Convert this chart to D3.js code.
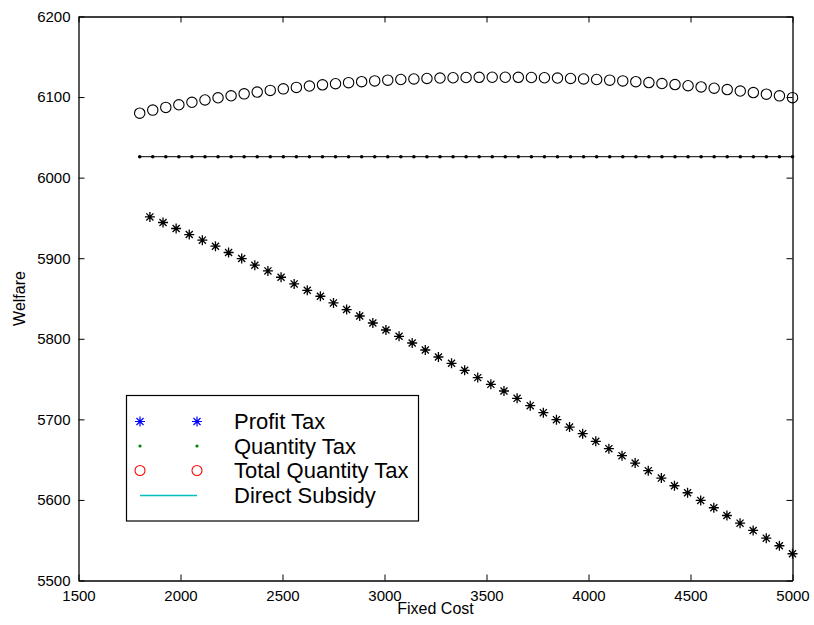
<!DOCTYPE html>
<html>
<head>
<meta charset="utf-8">
<script src="https://cdn.jsdelivr.net/npm/d3@7"></script>
<style>
  html, body { margin: 0; padding: 0; background: #fff; }
  svg { display: block; font-family: "Liberation Sans", Arial, Helvetica, sans-serif; }
</style>
</head>
<body>
<svg id="chart" width="814" height="625"></svg>
<script>
// Fixed-cost grid for the quantity-based schemes
const costGrid = [1800,1864,1928,1992,2056,2120,2184,2248,2312,2376,2440,2504,2568,2632,2696,2760,2824,2888,2952,3016,3080,3144,3208,3272,3336,3400,3464,3528,3592,3656,3720,3784,3848,3912,3976,4040,4104,4168,4232,4296,4360,4424,4488,4552,4616,4680,4744,4808,4872,4936,5000];

// Fixed-cost grid for the profit tax
const profitCost = [1850,1914.3,1978.6,2042.9,2107.1,2171.4,2235.7,2300,2364.3,2428.6,2492.9,2557.1,2621.4,2685.7,2750,2814.3,2878.6,2942.9,3007.1,3071.4,3135.7,3200,3264.3,3328.6,3392.9,3457.1,3521.4,3585.7,3650,3714.3,3778.6,3842.9,3907.1,3971.4,4035.7,4100,4164.3,4228.6,4292.9,4357.1,4421.4,4485.7,4550,4614.3,4678.6,4742.9,4807.1,4871.4,4935.7,5000];

// Welfare under each scheme
const profitTax = [5951.3,5944.3,5936.9,5929.4,5922.4,5914.9,5907.1,5899.6,5891.3,5884.2,5876.4,5868.1,5860.2,5852.8,5844.5,5836.3,5828.3,5819.6,5810.9,5803.1,5794.8,5786.1,5777.4,5769.6,5760.9,5751.8,5743.5,5735.2,5726.1,5717.0,5708.3,5699.6,5690.4,5682.2,5672.7,5663.6,5654.9,5645.7,5636.3,5627.1,5617.6,5608.9,5599.4,5590.3,5580.7,5571.2,5562.1,5552.5,5543.1,5533.2];

const quantityTax = [6026,6026,6026,6026,6026,6026,6026,6026,6026,6026,6026,6026,6026,6026,6026,6026,6026,6026,6026,6026,6026,6026,6026,6026,6026,6026,6026,6026,6026,6026,6026,6026,6026,6026,6026,6026,6026,6026,6026,6026,6026,6026,6026,6026,6026,6026,6026,6026,6026,6026,6026];

const totalQuantityTax = [6080,6083.8,6087.2,6090.4,6093.5,6096.4,6099.1,6101.6,6104.0,6106.2,6108.3,6110.2,6112.0,6113.7,6115.2,6116.6,6117.9,6119.1,6120.1,6121.0,6121.8,6122.5,6123.1,6123.6,6124.0,6124.3,6124.5,6124.6,6124.6,6124.5,6124.3,6124.0,6123.6,6123.1,6122.5,6121.8,6121.0,6120.1,6119.1,6118.0,6116.8,6115.5,6114.1,6112.6,6111.0,6109.3,6107.5,6105.6,6103.6,6101.5,6099.3];

const xTicks = [1500,2000,2500,3000,3500,4000,4500,5000];
const yTicks = [5500,5600,5700,5800,5900,6000,6100,6200];
const legendLabels = ["Profit Tax","Quantity Tax","Total Quantity Tax","Direct Subsidy"];

const svg = d3.select("#chart");
const plotLeft = 78.5, plotRight = 792.5, plotTop = 16.5, plotBottom = 580.5;

const x = d3.scaleLinear().domain([1500, 5000]).range([plotLeft, plotRight]);
const y = d3.scaleLinear().domain([5500, 6200]).range([plotBottom, plotTop]);

// Axes with inward ticks on all four sides
const tickLen = 6;
const fontSize = 15;
svg.append("g").attr("transform", `translate(0,${plotBottom})`)
  .call(d3.axisBottom(x).tickValues(xTicks).tickSizeInner(-tickLen).tickSizeOuter(0).tickPadding(10).tickFormat(d3.format("d")));
svg.append("g").attr("transform", `translate(0,${plotTop})`)
  .call(d3.axisTop(x).tickValues(xTicks).tickSizeInner(-tickLen).tickSizeOuter(0).tickFormat(""));
svg.append("g").attr("transform", `translate(${plotLeft},0)`)
  .call(d3.axisLeft(y).tickValues(yTicks).tickSizeInner(-tickLen).tickSizeOuter(0).tickPadding(8).tickFormat(d3.format("d")));
svg.append("g").attr("transform", `translate(${plotRight},0)`)
  .call(d3.axisRight(y).tickValues(yTicks).tickSizeInner(-tickLen).tickSizeOuter(0).tickFormat(""));

svg.selectAll(".domain").attr("stroke", "#000").attr("stroke-width", 1.3);
svg.selectAll(".tick line").attr("stroke", "#000").attr("stroke-width", 1);
svg.selectAll(".tick text").attr("fill", "#000").attr("font-size", fontSize)
  .attr("font-family", '"Liberation Sans", Arial, sans-serif');

// Axis titles
svg.append("text").attr("x", (plotLeft + plotRight) / 2).attr("y", 614)
  .attr("text-anchor", "middle").attr("font-size", 16).text("Fixed Cost");
svg.append("text").attr("transform", `translate(25,${(plotTop + plotBottom) / 2}) rotate(-90)`)
  .attr("text-anchor", "middle").attr("font-size", 16).text("Welfare");

// Asterisk marker path (plus + cross)
function starPath(cx, cy, r) {
  const d = r * Math.SQRT1_2;
  return `M${cx - r},${cy}L${cx + r},${cy}M${cx},${cy - r}L${cx},${cy + r}` +
         `M${cx - d},${cy - d}L${cx + d},${cy + d}M${cx - d},${cy + d}L${cx + d},${cy - d}`;
}

const plot = svg.append("g");

// Quantity tax: line with dots
const qData = costGrid.map((c, i) => [c, quantityTax[i]]);
plot.append("path").datum(qData)
  .attr("fill", "none").attr("stroke", "#000").attr("stroke-width", 1)
  .attr("d", d3.line().x(d => x(d[0])).y(d => y(d[1])));
plot.selectAll("circle.q").data(qData).join("circle").attr("class", "q")
  .attr("cx", d => x(d[0])).attr("cy", d => y(d[1])).attr("r", 1.8).attr("fill", "#000");

// Total quantity tax: open circles
const tData = costGrid.map((c, i) => [c, totalQuantityTax[i]]);
plot.selectAll("circle.t").data(tData).join("circle").attr("class", "t")
  .attr("cx", d => x(d[0])).attr("cy", d => y(d[1])).attr("r", 5.2)
  .attr("fill", "none").attr("stroke", "#000").attr("stroke-width", 1.1);

// Profit tax: asterisks
const pData = profitCost.map((c, i) => [c, profitTax[i]]);
plot.selectAll("path.p").data(pData).join("path").attr("class", "p")
  .attr("d", d => starPath(x(d[0]), y(d[1]), 5))
  .attr("fill", "none").attr("stroke", "#000").attr("stroke-width", 1.3);

// Legend
const lg = svg.append("g");
lg.append("rect").attr("x", 126.5).attr("y", 395.5).attr("width", 292).attr("height", 125.5)
  .attr("fill", "#fff").attr("stroke", "#000").attr("stroke-width", 1.2);
const rowY = [421.5, 446, 470.5, 495.5];
const mx = [140, 197];
const textX = 234;
legendLabels.forEach((lab, i) => {
  const ry = rowY[i];
  if (i === 0) {
    mx.forEach(px => lg.append("path").attr("d", starPath(px, ry, 5))
      .attr("fill", "none").attr("stroke", "#0000ff").attr("stroke-width", 1.2));
  } else if (i === 1) {
    mx.forEach(px => lg.append("circle").attr("cx", px).attr("cy", ry).attr("r", 1.6).attr("fill", "#008000"));
  } else if (i === 2) {
    mx.forEach(px => lg.append("circle").attr("cx", px).attr("cy", ry).attr("r", 5)
      .attr("fill", "none").attr("stroke", "#ff0000").attr("stroke-width", 1.1));
  } else {
    lg.append("line").attr("x1", mx[0]).attr("x2", mx[1]).attr("y1", ry).attr("y2", ry)
      .attr("stroke", "#00c0c0").attr("stroke-width", 1.3);
  }
  lg.append("text").attr("x", textX).attr("y", ry).attr("dy", "0.36em")
    .attr("font-size", 22).attr("fill", "#000").text(lab);
});
</script>
</body>
</html>
